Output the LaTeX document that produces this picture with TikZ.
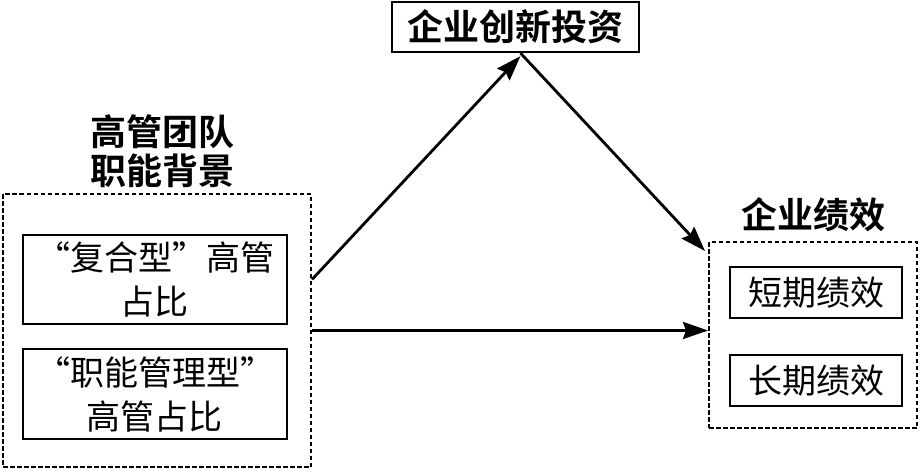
\documentclass[tikz,border=0pt]{standalone}
\usepackage{fontspec}
\newfontfamily\cjk{Noto Sans CJK SC}
\newfontfamily\cjkbf{Noto Sans CJK SC Bold}
\usetikzlibrary{arrows.meta}
\begin{document}
\begin{tikzpicture}[x=1pt,y=-1pt,
    box/.style={draw,line width=2.2pt,inner sep=0pt,align=center,
      font=\cjk\fontsize{34}{44}\selectfont},
    group/.style={draw,line width=2pt,dash pattern=on 4.5pt off 2.5pt,inner sep=0pt},
    title/.style={align=center,font=\cjkbf\fontsize{36}{39}\selectfont},
    arr/.style={line width=2.8pt,-{Stealth[length=25pt,width=17pt,inset=3pt]}}]
  \useasboundingbox (0,0) rectangle (921,472);
  % left side
  \node[group,minimum width=308pt,minimum height=273pt] (beijing) at (157,330.5) {};
  \node[title] (beijingtitle) at (162,151) {高管团队\\职能背景};
  \node[box,minimum width=264pt,minimum height=89pt] (fuhe) at (155,279.5) {“复合型”高管\\占比};
  \node[box,minimum width=264pt,minimum height=90pt] (zhineng) at (155,394) {“职能管理型”\\高管占比};
  % top
  \node[box,font=\cjkbf\fontsize{36}{39}\selectfont,
    minimum width=247pt,minimum height=50pt] (touzi) at (515.5,27) {企业创新投资};
  % right side
  \node[group,minimum width=208pt,minimum height=186pt] (jixiao) at (813,335) {};
  \node[title] (jixiaotitle) at (813,215) {企业绩效};
  \node[box,minimum width=172pt,minimum height=51pt] (duanqi) at (816,292.5) {短期绩效};
  \node[box,minimum width=172pt,minimum height=51pt] (changqi) at (816,380.5) {长期绩效};
  % paths
  \coordinate (apex) at ([xshift=5pt]touzi.south);
  \draw[arr] ([yshift=51pt]beijing.east) -- ([yshift=-3pt]apex);
  \draw[arr] (apex) -- ([xshift=-3pt,yshift=-10pt]jixiao.north west);
  \draw[arr] (beijing.east) -- (beijing.east -| jixiao.west);
\end{tikzpicture}
\end{document}
